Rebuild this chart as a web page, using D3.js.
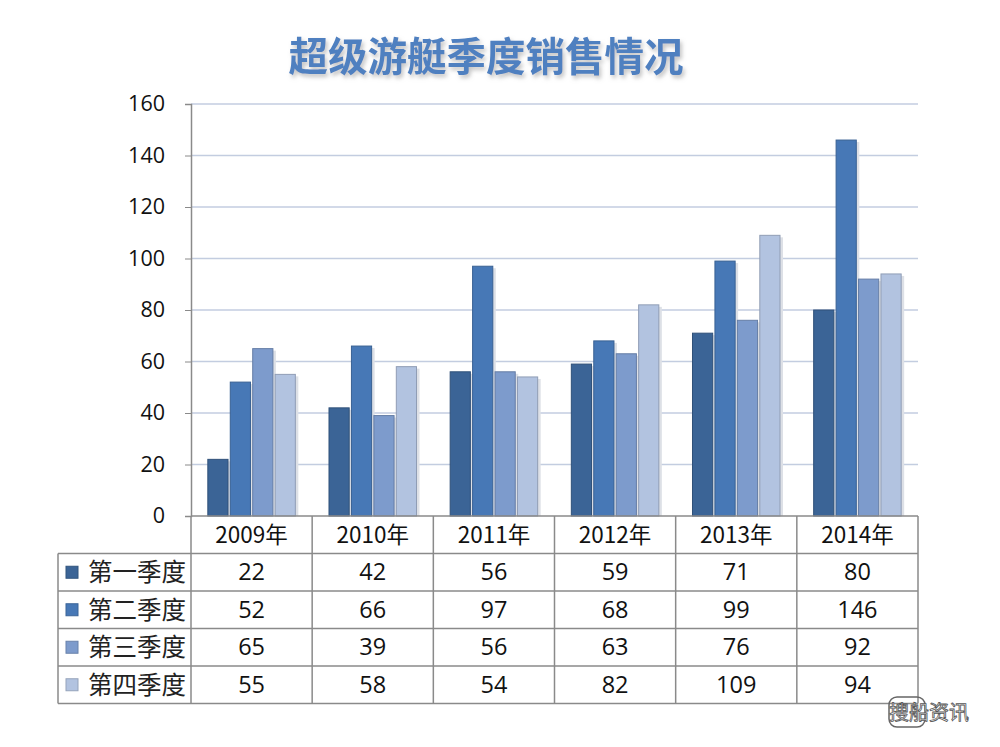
<!DOCTYPE html>
<html>
<head>
<meta charset="utf-8">
<script src="https://cdn.jsdelivr.net/npm/d3@7"></script>
<style>
body { margin: 0; background: #fff; }
text { font-family: "Noto Sans CJK SC", "Noto Sans", sans-serif; }
</style>
</head>
<body>
<div id="canvas"></div>
<script>
const width = 1000;
const height = 747;

// data
const years = ['2009年', '2010年', '2011年', '2012年', '2013年', '2014年'];
const quarters = ['第一季度', '第二季度', '第三季度', '第四季度'];
const q1 = [22, 42, 56, 59, 71, 80];
const q2 = [52, 66, 97, 68, 99, 146];
const q3 = [65, 39, 56, 63, 76, 92];
const q4 = [55, 58, 54, 82, 109, 94];
const yTicks = [0, 20, 40, 60, 80, 100, 120, 140, 160];
const colors = ['#3b6496', '#4778b6', '#7d9bcc', '#b2c3e0'];

const series = [q1, q2, q3, q4];

const plotL = 191, plotR = 918, plotT = 104, plotB = 516;
const rowH = 37.5;

const svg = d3.select('#canvas').append('svg')
  .attr('width', width)
  .attr('height', height);

const defs = svg.append('defs');
const f = defs.append('filter').attr('id', 'ts').attr('x', '-5%').attr('y', '-20%').attr('width', '110%').attr('height', '140%');
f.append('feDropShadow').attr('dx', 2).attr('dy', 3).attr('stdDeviation', 2).attr('flood-color', '#999').attr('flood-opacity', 0.6);

// title
svg.append('text')
  .attr('x', 486).attr('y', 71)
  .attr('text-anchor', 'middle')
  .attr('font-size', 39.5)
  .attr('font-weight', 'bold')
  .attr('fill', '#5080c0')
  .attr('filter', 'url(#ts)')
  .text('超级游艇季度销售情况');

const x = d3.scaleBand().domain(years).range([plotL, plotR]);
const xi = d3.scaleBand().domain(d3.range(4)).range([0, x.bandwidth()]).paddingOuter(0.75).paddingInner(0.1);
const y = d3.scaleLinear().domain([0, 160]).range([plotB, plotT]);

// gridlines
svg.append('g')
  .selectAll('line')
  .data(yTicks.slice(1))
  .join('line')
  .attr('x1', plotL).attr('x2', plotR)
  .attr('y1', d => y(d)).attr('y2', d => y(d))
  .attr('stroke', '#c3cde0')
  .attr('stroke-width', 1.5);

// y axis
const yAxis = d3.axisLeft(y).tickValues(yTicks).tickSize(6).tickPadding(20);
const ya = svg.append('g').attr('transform', `translate(${plotL},0)`).call(yAxis);
ya.select('.domain').attr('stroke', '#8a8a8a').attr('stroke-width', 1.5);
ya.selectAll('.tick line').attr('stroke', '#8a8a8a');
ya.selectAll('.tick text').attr('font-size', 21.5).attr('fill', '#111')
  .style('font-family', '"Open Sans", "Noto Sans", sans-serif');

// bars
const groups = svg.append('g')
  .selectAll('g')
  .data(years)
  .join('g')
  .attr('transform', d => `translate(${x(d)},0)`);

groups.each(function(yr, i) {
  const g = d3.select(this);
  series.forEach((s, k) => {
    g.append('rect')
      .attr('x', xi(k) + 3).attr('y', y(s[i]) + 2)
      .attr('width', xi.bandwidth()).attr('height', plotB - y(s[i]) - 2)
      .attr('fill', '#dde0e6');
    g.append('rect')
      .attr('x', xi(k)).attr('y', y(s[i]))
      .attr('width', xi.bandwidth()).attr('height', plotB - y(s[i]))
      .attr('fill', colors[k])
      .attr('stroke', d3.color(colors[k]).darker(0.6))
      .attr('stroke-width', 1);
  });
});

// data table
const tbl = svg.append('g');
const tableBottom = plotB + rowH + rowH * 4;
const lineColor = '#8a8a8a';

// horizontal lines
tbl.append('line').attr('x1', plotL).attr('x2', plotR).attr('y1', plotB).attr('y2', plotB)
  .attr('stroke', lineColor).attr('stroke-width', 1.5);
d3.range(5).forEach(r => {
  tbl.append('line').attr('x1', 58).attr('x2', plotR)
    .attr('y1', plotB + rowH * (r + 1)).attr('y2', plotB + rowH * (r + 1))
    .attr('stroke', lineColor).attr('stroke-width', 1.5);
});
// vertical lines
tbl.append('line').attr('x1', 58).attr('x2', 58).attr('y1', plotB + rowH).attr('y2', tableBottom)
  .attr('stroke', lineColor).attr('stroke-width', 1.5);
[plotL].concat(years.map(d => x(d) + x.bandwidth())).forEach(v => {
  tbl.append('line').attr('x1', v).attr('x2', v).attr('y1', plotB).attr('y2', tableBottom)
    .attr('stroke', lineColor).attr('stroke-width', 1.5);
});

// header years
tbl.selectAll('.yr')
  .data(years)
  .join('text')
  .attr('x', d => x(d) + x.bandwidth() / 2)
  .attr('y', plotB + rowH / 2 + 8)
  .attr('text-anchor', 'middle')
  .attr('font-size', 22.5)
  .attr('fill', '#111')
  .text(d => d);

// rows
quarters.forEach((q, k) => {
  const cy = plotB + rowH * (k + 1) + rowH / 2;
  tbl.append('rect')
    .attr('x', 66).attr('y', cy - 6).attr('width', 12).attr('height', 12)
    .attr('fill', colors[k]).attr('stroke', d3.color(colors[k]).darker(0.5));
  tbl.append('text')
    .attr('x', 88).attr('y', cy + 9)
    .attr('font-size', 24.5)
    .attr('fill', '#222')
    .text(q);
  tbl.selectAll(null)
    .data(series[k])
    .join('text')
    .attr('x', (d, i) => x(years[i]) + x.bandwidth() / 2)
    .attr('y', cy + 8)
    .attr('text-anchor', 'middle')
    .attr('font-size', 23.5)
    .attr('fill', '#111')
    .style('font-family', '"Open Sans", "Noto Sans", sans-serif')
    .text(d => d);
});

// watermark
const wm = svg.append('g').attr('transform', 'translate(889,697)');
wm.append('rect').attr('x', 0).attr('y', 0).attr('width', 36).attr('height', 30).attr('rx', 8)
  .attr('fill', 'none').attr('stroke', '#666').attr('stroke-width', 1.5);
wm.append('text').attr('x', 0).attr('y', 23).attr('font-size', 20).attr('fill', '#fff')
  .attr('stroke', '#555').attr('stroke-width', 0.8)
  .text('搜船资讯');
</script>
</body>
</html>
